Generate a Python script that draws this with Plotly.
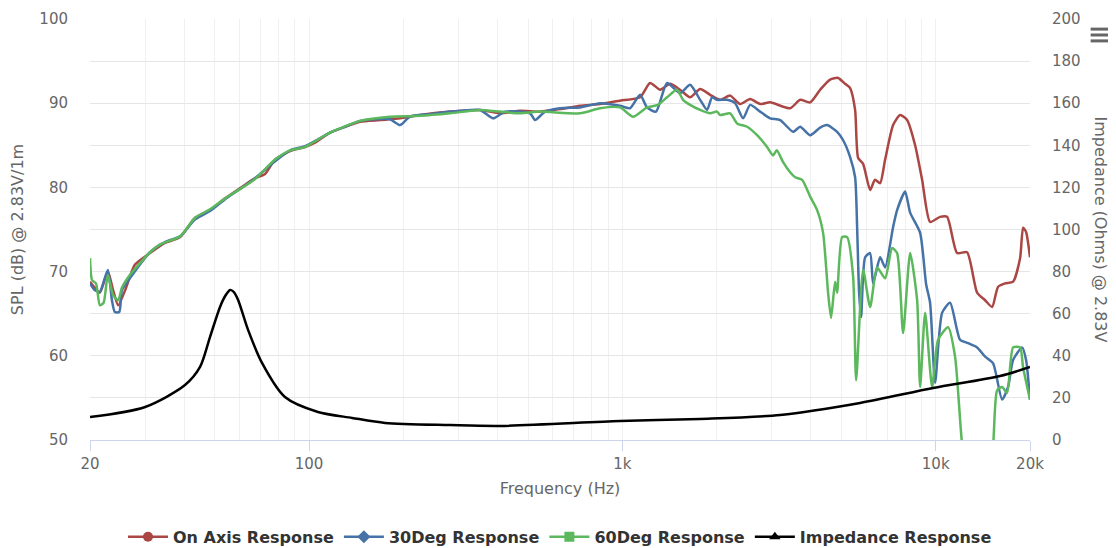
import plotly.graph_objects as go

# ---------------- data ----------------
on_axis_freq = [20, 20.7, 21.5, 22.8, 23.7, 24.6, 25.9, 27.8, 31.1, 34.7, 38.8, 43.3, 48.3, 54.0, 60.2,
                67.3, 72.4, 77.9, 87.0, 97.1, 104.5, 116.7, 130.3, 145.5, 168.6, 195.2, 226.1, 281.9,
                351.5, 407, 472, 546, 633, 733, 849, 983, 1139, 1226, 1320, 1420, 1528, 1645, 1771,
                1906, 2051, 2208, 2376, 2558, 2753, 2963, 3432, 3694, 3976, 4279, 4604, 4883, 5140,
                5333, 5532, 5656, 5867, 6177, 6404, 6648, 6897, 7314, 7700, 8106, 8598, 9052, 9597,
                10327, 10874, 11703, 12597, 13558, 14381, 15138, 15821, 16653, 17663, 18596, 19012,
                19430, 20000]
on_axis_db = [68.8, 68.1, 67.5, 70.0, 67.8, 66.0, 67.8, 70.8, 72.2, 73.4, 74.1, 76.4, 77.3, 78.7, 79.9,
              81.1, 81.6, 83.3, 84.3, 84.8, 85.3, 86.5, 87.2, 87.8, 88.0, 88.2, 88.6, 89.0,
              89.2, 88.8, 89.1, 89.0, 89.3, 89.7, 89.9, 90.3, 90.7, 92.4, 91.6, 92.3, 91.6, 90.7, 91.7,
              91.0, 90.4, 90.9, 89.9, 90.5, 89.9, 90.1, 89.4, 90.4, 90.1, 91.6, 92.8, 93.0, 92.3,
              91.8, 89.2, 83.5, 82.8, 79.7, 80.9, 80.5, 83.3, 87.4, 88.6, 88.0, 85.0, 80.9, 75.9,
              76.5, 76.5, 72.2, 72.3, 67.5, 66.6, 65.8, 68.2, 68.6, 68.8, 71.6, 75.2,
              74.7, 71.7]

deg30_freq = [20, 20.7, 21.5, 22.8, 23.5, 24.0, 24.8, 25.3, 26.8, 31.1, 34.7, 38.8, 43.3, 48.3, 54.0,
              60.2, 67.3, 77.9, 87.0, 97.1, 116.7, 130.3, 145.5, 181, 195.2, 210, 243, 303.6, 351.5,
              386.6, 422.4, 507.5, 526.5, 566.9, 633, 733, 849, 983, 1058, 1139, 1199, 1281, 1389,
              1528, 1645, 1771, 1864, 1933, 2006, 2160, 2290, 2429, 2558, 2753, 2963, 3189, 3507,
              3694, 3976, 4279, 4501, 4847, 5066, 5333, 5532, 5614, 5697, 5781, 5954, 6177, 6314,
              6648, 6897, 7314, 7532, 7988, 8289, 8920, 9322, 9597, 9958, 10481, 11117, 11966,
              12690, 13558, 14381, 15250, 16291, 17025, 17663, 18872, 19430, 20000]
deg30_db = [68.6, 67.8, 67.6, 70.2, 66.6, 65.2, 65.2, 67.8, 69.2, 72.3, 73.5, 74.2, 76.2, 77.2, 78.6,
            79.8, 81.1, 83.1, 84.4, 84.9, 86.5, 87.2, 87.9, 88.1, 87.4, 88.4, 88.7, 89.1, 89.2,
            88.2, 89.0, 88.8, 88.0, 89.0, 89.4, 89.5, 90.0, 89.7, 89.4, 91.0, 89.5, 89.0, 92.4,
            91.2, 92.2, 90.4, 89.2, 90.7, 90.4, 90.4, 90.0, 88.2, 89.8, 89.0, 88.2, 88.0, 86.6,
            87.2, 86.2, 87.1, 87.4, 86.6, 85.6, 83.6, 81.2, 75.3, 67.5, 64.6, 71.7, 72.2, 68.6,
            71.7, 70.5, 75.3, 77.3, 79.5, 77.0, 74.6, 68.5, 66.3, 56.8, 65.1, 66.3, 61.9,
            61.5, 61.0, 59.9, 59.1, 54.8, 56.3, 59.5, 61.0, 59.5, 54.8]

deg60_freq = [20, 20.3, 20.9, 21.5, 22.1, 22.8, 23.7, 24.6, 25.3, 26.8, 31.1, 33.4, 38.8, 43.3, 48.3,
              54.0, 60.2, 67.3, 77.9, 87.0, 97.1, 116.7, 145.5, 181, 226, 282, 351.5, 407, 472, 546,
              733, 849, 983, 1082, 1199, 1297, 1389, 1494, 1562, 1645, 1771, 1906, 2006, 2051, 2208,
              2324, 2501, 2692, 2897, 3027, 3110, 3259, 3432, 3561, 3748, 3976, 4185, 4372, 4535,
              4636, 4775, 4847, 5028, 5216, 5452, 5573, 5867, 6177, 6503, 6897, 7261, 7532, 7871,
              8289, 8726, 8920, 9254, 9740, 10180, 10955, 11532, 12144, 12690, 14381, 15250,
              15704, 16291, 16900, 17663, 18596, 19012, 20000]
deg60_db = [71.6, 69.0, 68.6, 66.0, 66.3, 69.6, 67.2, 66.6, 68.1, 69.6, 72.3, 73.2, 74.2, 76.4, 77.4,
            78.7, 79.8, 81.0, 83.3, 84.4, 84.8, 86.5, 87.9, 88.4, 88.5, 88.8, 89.2, 89.0, 88.8, 89.0,
            88.8, 89.4, 89.5, 88.4, 89.5, 89.8, 90.7, 91.6, 90.4, 89.8, 89.2, 88.8, 89.0, 88.6, 88.8,
            87.6, 87.2, 86.2, 84.8, 83.8, 84.4, 83.0, 81.8, 81.2, 80.9, 78.9, 77.3, 74.6, 67.5,
            64.5, 68.8, 67.5, 74.1, 74.1, 69.4, 57.1, 70.2, 65.8, 70.5, 69.2, 72.8, 72.2, 62.7,
            72.2, 66.6, 56.3, 65.1, 56.3, 61.9, 63.4, 59.9, 49.5, 45.3, 43.0, 49.4,
            55.9, 56.3, 55.6, 61.0, 61.0, 58.6, 54.8]

impedance_freq = [20, 30.0, 40.2, 44.9, 48.3, 52.0, 54.0, 56.0, 57.6, 59.4, 63.9, 70.8, 83.8, 106.8,
                  137.2, 174.9, 281.9, 407, 983, 1771, 3189, 5739, 9812, 16054, 20000]
impedance_ohm = [10.9, 15.7, 26.1, 34.7, 48.9, 63.2, 68.4, 71.3, 70.3, 66.5, 52.3, 36.6, 20.4, 13.3,
                 10.5, 8.1, 7.1, 6.7, 9.0, 10.0, 11.9, 17.6, 24.7, 30.4, 34.7]

x_tick_vals = [20, 100, 1000, 10000, 20000]
x_tick_text = ["20", "100", "1k", "10k", "20k"]
x_minor_vals = [30, 40, 50, 60, 70, 80, 90, 200, 300, 400, 500, 600, 700, 800, 900,
                2000, 3000, 4000, 5000, 6000, 7000, 8000, 9000]

series_names = ["On Axis Response", "30Deg Response", "60Deg Response", "Impedance Response"]
series_colors = ["#AA4643", "#4572A7", "#5CB85C", "#000000"]
legend_symbols = ["circle", "diamond", "square", "triangle-up"]

# ---------------- figure ----------------
fig = go.Figure()
spl_data = [(on_axis_freq, on_axis_db), (deg30_freq, deg30_db), (deg60_freq, deg60_db)]
for (fx, fy), name, col in zip(spl_data, series_names[:3], series_colors[:3]):
    fig.add_trace(go.Scatter(x=fx, y=fy, mode="lines", name=name, showlegend=False,
                             line=dict(color=col, width=2.5, shape="spline", smoothing=0.6),
                             yaxis="y"))
fig.add_trace(go.Scatter(x=impedance_freq, y=impedance_ohm, mode="lines", name=series_names[3],
                         showlegend=False,
                         line=dict(color=series_colors[3], width=2.5, shape="spline", smoothing=0.8),
                         yaxis="y2"))

# legend entries (line + symbol)
for name, col, sym in zip(series_names, series_colors, legend_symbols):
    fig.add_trace(go.Scatter(x=[None], y=[None], mode="lines+markers", name=name,
                             line=dict(color=col, width=2.5),
                             marker=dict(symbol=sym, size=10, color=col)))

grid_minor = "#f0f0f0"
fig.update_layout(
    width=1108, height=540,
    margin=dict(l=82, r=86, t=11, b=108, autoexpand=False),
    plot_bgcolor="white", paper_bgcolor="white",
    font=dict(family="DejaVu Sans, sans-serif", size=15, color="#666666"),
    xaxis=dict(
        type="log", range=[1.30103, 4.30103], automargin=False,
        tickmode="array", tickvals=x_tick_vals, ticktext=x_tick_text,
        showgrid=True, gridcolor=grid_minor, gridwidth=1,
        ticks="outside", ticklen=10, tickcolor="#ccd6eb",
        showline=True, linecolor="#ccd6eb", linewidth=1,
        minor=dict(tickmode="array", tickvals=x_minor_vals, showgrid=True,
                   gridcolor=grid_minor, ticks=""),
        zeroline=False,
        title=dict(text="Frequency (Hz)", font=dict(size=16, color="#666666"), standoff=10),
        tickfont=dict(size=15, color="#666666"),
    ),
    yaxis=dict(
        range=[50, 100], tickmode="linear", tick0=50, dtick=10, automargin=False,
        showgrid=True, gridcolor="#e6e6e6",
        ticks="outside", ticklen=18, tickcolor="rgba(0,0,0,0)",
        zeroline=False, showline=False,
        title=dict(text="SPL (dB) @ 2.83V/1m", font=dict(size=16, color="#666666"), standoff=12),
        tickfont=dict(size=15, color="#666666"),
    ),
    yaxis2=dict(
        range=[0, 200], tickmode="linear", tick0=0, dtick=20, automargin=False,
        overlaying="y", side="right",
        showgrid=True, gridcolor="#e6e6e6",
        ticks="outside", ticklen=18, tickcolor="rgba(0,0,0,0)",
        zeroline=False, showline=False,
        tickfont=dict(size=15, color="#666666"),
    ),
    legend=dict(orientation="h", x=0.5, xanchor="center", y=-0.23, yanchor="middle",
                font=dict(family="DejaVu Sans, sans-serif", size=16,
                          color="#333333", weight="bold"),
                itemwidth=40, traceorder="normal"),
    showlegend=True,
)

fig.add_annotation(text="Impedance (Ohms) @ 2.83V", xref="paper", yref="paper",
                   x=1.0745, y=0.5, textangle=90, showarrow=False,
                   font=dict(size=16, color="#666666"), xanchor="center", yanchor="middle")

# hamburger menu icon
for yy in [0.976, 0.962, 0.948]:
    fig.add_shape(type="line", xref="paper", yref="paper", x0=1.0645, x1=1.0845, y0=yy, y1=yy,
                  line=dict(color="#666666", width=3))

fig.write_html("out.html")
